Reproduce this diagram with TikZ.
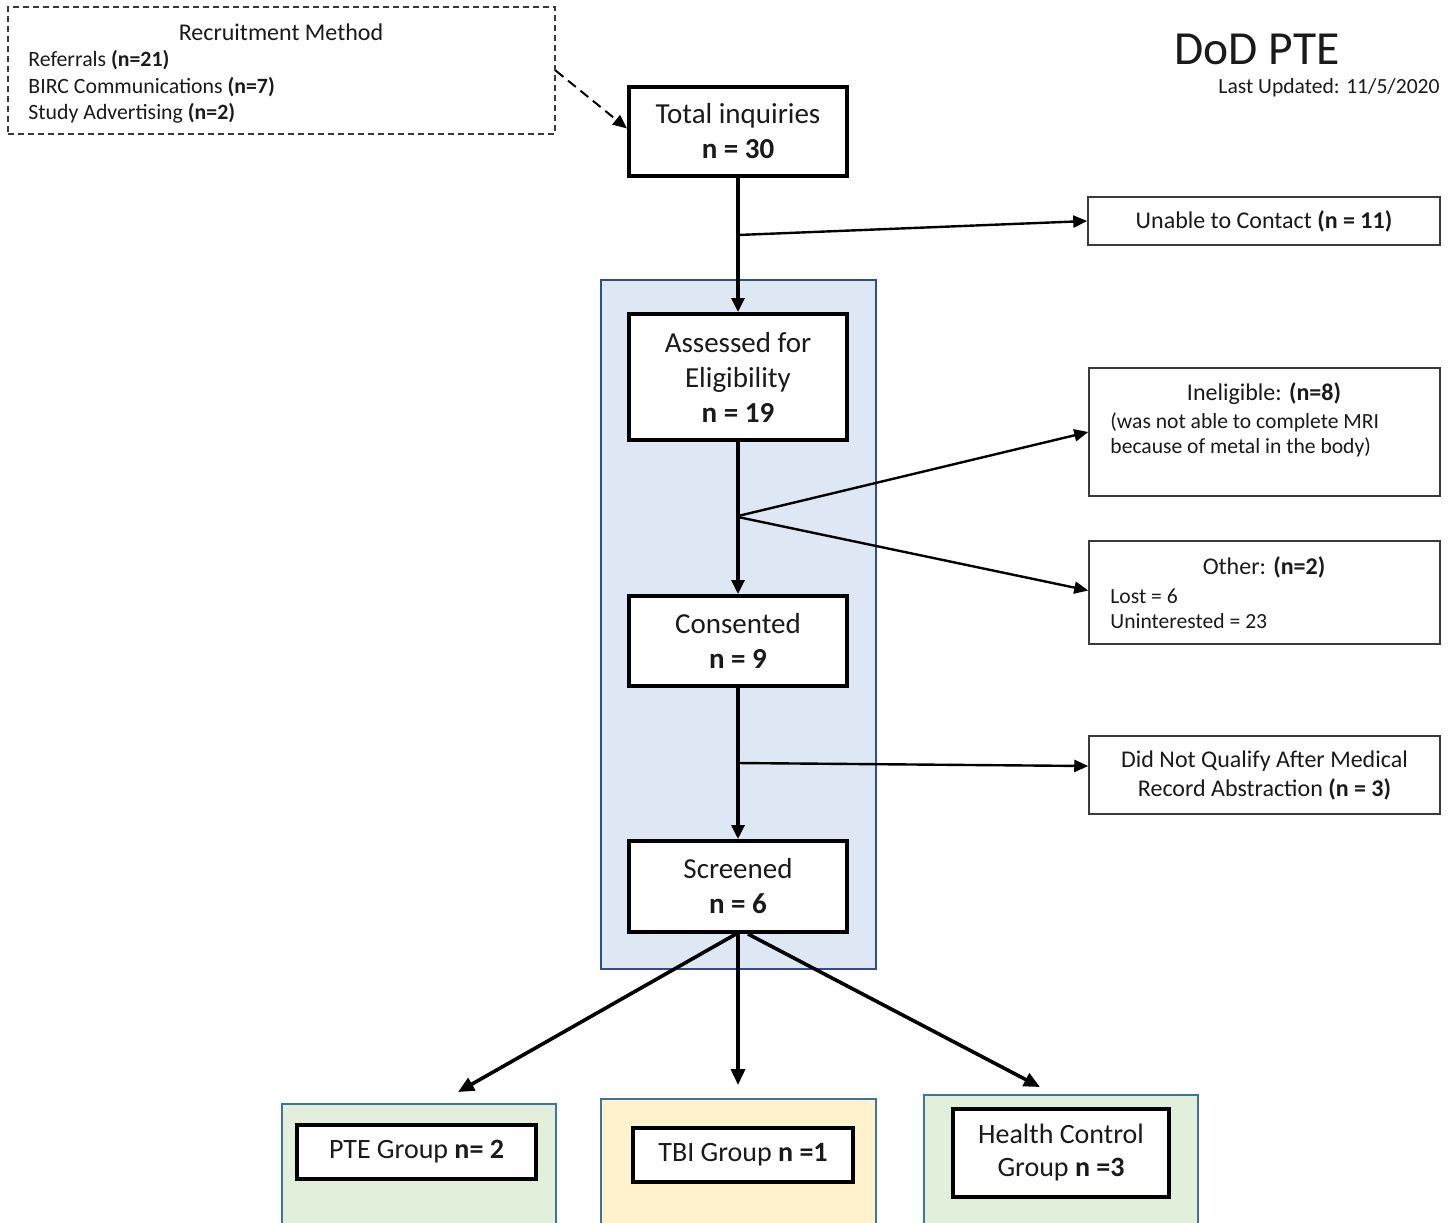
\documentclass[tikz,border=0pt]{standalone}
\usepackage{fontspec}
\setmainfont{Carlito}
\usetikzlibrary{arrows.meta,calc}
\definecolor{txt}{HTML}{1A1A1A}
\definecolor{bluebg}{HTML}{DEE8F5}
\definecolor{blueline}{HTML}{2F4E8C}
\definecolor{greenbg}{HTML}{E2EFDA}
\definecolor{yellowbg}{HTML}{FFF2CC}
\definecolor{outerline}{HTML}{41719C}
\definecolor{thinline}{HTML}{3A3A3A}
\newcommand{\fsz}[2]{\fontsize{#1}{#2}\selectfont}
\begin{document}
\begin{tikzpicture}[x=0.5pt,y=-0.5pt,
  mainbox/.style={draw=black,line width=2pt,fill=white,inner sep=0pt,align=center,text=txt,font=\fsz{14.5}{17.5}},
  sidebox/.style={draw=thinline,line width=0.75pt,fill=white,inner sep=0pt,align=center,text=txt,font=\fsz{12}{14.5}},
  groupbox/.style={draw=black,line width=2pt,fill=white,inner sep=0pt,align=center,text=txt,font=\fsz{14}{16.5}},
  outerbox/.style={draw=outerline,line width=0.6pt,inner sep=0pt},
  plain/.style={inner sep=0pt,text=txt},
  mainarrow/.style={line width=1.6pt,-{Triangle[length=7pt,width=6.5pt]}},
  sidearrow/.style={line width=1.2pt,-{Triangle[length=7pt,width=6pt]}},
  splitarrow/.style={line width=1.8pt,-{Triangle[length=8pt,width=7pt]}}
]
\useasboundingbox (0,0) rectangle (1456,1222);
\fill[white] (0,0) rectangle (1456,1222);

% blue background panel
\node[draw=blueline,line width=0.6pt,fill=bluebg,inner sep=0pt,minimum width=137.5pt,minimum height=344.5pt] (panel) at (738.5,624.5) {};

% recruitment box
\node[draw=thinline,line width=0.6pt,dash pattern=on 3pt off 2pt,inner sep=0pt,minimum width=273.5pt,minimum height=63.5pt] (rec) at (281.5,70.5) {};
\node[plain,font=\fsz{12}{14}] (rect) at (281,32) {Recruitment Method};
\node[plain,anchor=west,font=\fsz{10.9}{13}] (rec1) at (28,60) {Referrals \textbf{(n=21)}};
\node[plain,anchor=west,font=\fsz{10.9}{13}] (rec2) at (28,87) {BIRC Communications \textbf{(n=7)}};
\node[plain,anchor=west,font=\fsz{10.9}{13}] (rec3) at (28,113) {Study Advertising \textbf{(n=2)}};

% title
\node[plain,font=\fsz{23.75}{28}] (title) at (1257,49) {DoD PTE};
\node[plain,anchor=east,font=\fsz{10.8}{12}] (upd) at (1440,88) {Last Updated: 11/5/2020};

% main column
\node[mainbox,minimum width=109pt,minimum height=44.5pt] (tot) at (738,131.5) {Total inquiries\\\textbf{n = 30}};
\node[mainbox,minimum width=109pt,minimum height=63pt] (ass) at (738,377) {Assessed for\\Eligibility\\\textbf{n = 19}};
\node[mainbox,minimum width=109pt,minimum height=45pt] (cons) at (738,641) {Consented\\\textbf{n = 9}};
\node[mainbox,minimum width=109pt,minimum height=45.5pt] (scr) at (738,886.5) {Screened\\\textbf{n = 6}};

% side boxes
\node[sidebox,minimum width=176pt,minimum height=24pt] (unable) at (1264,221) {Unable to Contact \textbf{(n = 11)}};
\node[sidebox,minimum width=175.5pt,minimum height=64pt] (inel) at (1264.5,432) {};
\node[plain,font=\fsz{12}{14}] (inelt) at (1264,394) {Ineligible: \textbf{(n=8)}};
\node[plain,anchor=west,font=\fsz{10.8}{13}] (inel1) at (1110,422) {(was not able to complete MRI};
\node[plain,anchor=west,font=\fsz{10.8}{13}] (inel2) at (1110,447) {because of metal in the body)};
\node[sidebox,minimum width=175.5pt,minimum height=51.5pt] (other) at (1264.5,592.5) {};
\node[plain,font=\fsz{12}{14}] (othert) at (1264,567) {Other: \textbf{(n=2)}};
\node[plain,anchor=west,font=\fsz{10.8}{13}] (other1) at (1110,596) {Lost = 6};
\node[plain,anchor=west,font=\fsz{10.8}{13}] (other2) at (1110,621) {Uninterested = 23};
\node[sidebox,minimum width=175.5pt,minimum height=39pt] (didnot) at (1264.5,775) {Did Not Qualify After Medical\\Record Abstraction \textbf{(n = 3)}};

% group boxes (outer panels run past the lower edge)
\node[outerbox,fill=greenbg,minimum width=137pt,minimum height=65pt] (pteo) at (419,1169) {};
\node[groupbox,minimum width=119.5pt,minimum height=27pt] (pte) at (416.5,1152) {PTE Group \textbf{n= 2}};
\node[outerbox,fill=yellowbg,minimum width=137.5pt,minimum height=67pt] (tbio) at (738.5,1166) {};
\node[groupbox,minimum width=110pt,minimum height=27pt] (tbi) at (743,1155) {TBI Group \textbf{n =1}};
\node[outerbox,fill=greenbg,minimum width=137pt,minimum height=69pt] (hco) at (1061,1164) {};
\node[groupbox,minimum width=108pt,minimum height=44pt] (hc) at (1061,1153) {Health Control\\Group \textbf{n =3}};

% connectors
\draw[line width=1pt,dash pattern=on 5pt off 3pt,-{Triangle[length=7pt,width=6pt]}] (rec.east) -- ([yshift=1.5pt]tot.west);
\coordinate (b1) at (738,235);
\coordinate (b2) at (738,516);
\coordinate (b3) at (738,763);
\draw[mainarrow] (tot.south) -- (ass.north);
\draw[mainarrow] (ass.south) -- (cons.north);
\draw[mainarrow] (cons.south) -- (scr.north);
\draw[sidearrow] (b1) -- (unable.west);
\draw[sidearrow] (b2) -- (inel.west);
\draw[sidearrow] ($(b2)+(0,1)$) -- ([yshift=1pt]other.west);
\draw[sidearrow] (b3) -- ([yshift=4.5pt]didnot.west);
\coordinate (e1) at (458,1092);
\coordinate (e2) at (738,1085);
\coordinate (e3) at (1040,1087);
\draw[splitarrow] ([xshift=-1pt]scr.south) -- (e1);
\draw[splitarrow] (scr.south) -- (e2);
\draw[splitarrow] ([xshift=5pt]scr.south) -- (e3);
\end{tikzpicture}
\end{document}
